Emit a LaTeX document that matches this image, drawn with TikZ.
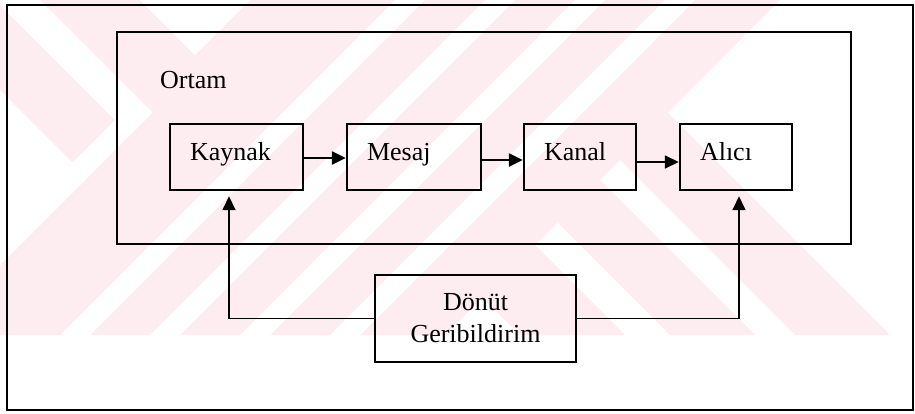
\documentclass[tikz,border=0pt]{standalone}
\usepackage{fontspec}
\setmainfont{Liberation Serif}
\usetikzlibrary{arrows.meta}
\definecolor{wm}{RGB}{253,237,240}
\begin{document}
\begin{tikzpicture}[x=1pt,y=-1pt,
  lbl/.style={font=\fontsize{26}{32}\selectfont},
  box/.style={draw=black, line width=2.4pt, inner xsep=20pt, inner ysep=0pt,
    minimum height=66pt, align=left, text height=18pt, text depth=12pt, lbl},
  tip/.style={-{Triangle[length=14pt,width=13pt]}},
  flow/.style={line width=2.4pt, tip},
  fb/.style={line width=1.7pt, tip, shorten >=5pt},
  frame/.style={draw=black, line width=2.4pt}]
\useasboundingbox (0,0) rectangle (915,413);
% ---- faint watermark in the background
\begin{scope}
  \clip (0,0) rectangle (915,335);
  \fill[wm] (0,0) -- (780,0) -- (445,335) -- (0,335) -- cycle;
  \foreach \a in {395,485,575,665}{
    \fill[white] (\a,0) -- ({\a+30},0) -- ({\a-305},335) -- ({\a-335},335) -- cycle;}
  \fill[white] (0,90) -- (87.5,177.5) -- (0,265) -- cycle;
  \fill[white] (150,115) -- (120,115) -- (0,235) -- (0,265) -- cycle;
  \fill[white] (0,5) -- (130,135) -- (152.5,112.5) -- (40,0) -- (0,0) -- cycle;
  \fill[white] (140,0) -- (250,0) -- (195,55) -- cycle;
  \begin{scope}
    \clip (700,0) -- (915,0) -- (915,335) -- (365,335) -- cycle;
    \foreach \p/\q in {185/290, 335/420, 460/555}{
      \fill[wm] (\p,0) -- (\q,0) -- ({\q+335},335) -- ({\p+335},335) -- cycle;}
  \end{scope}
\end{scope}
% ---- frames
\draw[frame] (7,5) rectangle (913,410);
\draw[frame] (117,32) rectangle (851,244);
% ---- nodes
\node[anchor=base west, inner sep=0pt, lbl] (ortam) at (160,88) {Ortam};
\node[box, text width=93pt] (kaynak) at (236.5,157) {Kaynak};
\node[box, text width=94pt] (mesaj) at (414,157) {Mesaj};
\node[box, text width=72pt] (kanal) at (580,157) {Kanal};
\node[box, text width=72pt] (alici) at (736,157) {Alıcı};
\node[draw=black, line width=2.4pt, minimum width=201pt, minimum height=87pt,
      inner sep=0pt, align=center, lbl] (donut) at (475.5,318.5) {Dönüt\\Geribildirim};
% ---- connectors
\draw[flow] ([yshift=-1pt]kaynak.east) -- ([yshift=-1pt]mesaj.west);
\draw[flow] ([yshift=-3pt]mesaj.east) -- ([yshift=-3pt]kanal.west);
\draw[flow, line width=1.6pt] ([yshift=-5pt]kanal.east) -- ([yshift=-5pt]alici.west);
\coordinate (kin) at ([xshift=-7.5pt]kaynak.south);
\coordinate (ain) at ([xshift=3pt]alici.south);
\draw[fb] (donut.west) -| (kin);
\draw[fb] (donut.east) -| (ain);
\end{tikzpicture}
\end{document}
